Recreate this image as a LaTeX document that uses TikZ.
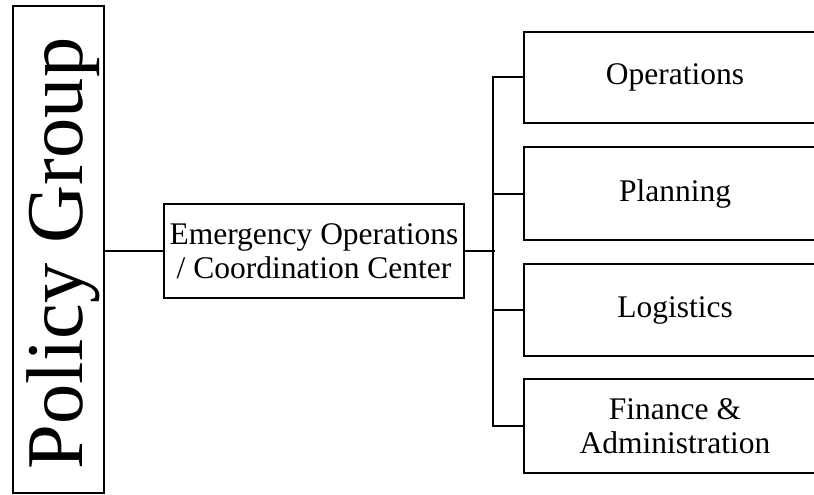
\documentclass[tikz,border=0pt]{standalone}
\usepackage{fontspec}
\setmainfont{Liberation Serif}
\begin{document}
\begin{tikzpicture}[x=1pt,y=-1pt,
  box/.style={draw=black, line width=2pt, fill=white, rectangle, inner sep=0pt, align=center,
    font=\fontsize{31.5}{34}\selectfont},
  sidebox/.style={box, minimum width=302pt},
  conn/.style={draw=black, line width=2pt}]
\useasboundingbox (0,0) rectangle (814,495);
\clip (0,0) rectangle (814,495);
\node[box, minimum width=91pt, minimum height=487pt] (policy) at (58.5,249.5) {};
\node[rotate=90, inner sep=0pt, font=\fontsize{80.5}{81}\selectfont] (policytext) at (63.5,253.5) {Policy Group};
\node[box, minimum width=300pt, minimum height=94pt] (eoc) at (314,251) {Emergency Operations\\/ Coordination Center};
\node[sidebox, minimum height=91pt] (ops) at (675,77.5) {Operations};
\node[sidebox, minimum height=93pt] (planning) at (675,193.5) {Planning};
\node[sidebox, minimum height=92pt] (logistics) at (675,310) {Logistics};
\node[sidebox, minimum height=94pt] (finance) at (675,426) {Finance \&\\Administration};
\draw[conn] (policy.east |- eoc.west) -- (eoc.west);
\draw[conn] (eoc.east) -- ++(30,0);
\draw[conn] (ops.west) -- ++(-30,0) |- (finance.west);
\draw[conn] (planning.west) -- ++(-30,0);
\draw[conn] (logistics.west) -- ++(-30,0);
\end{tikzpicture}
\end{document}
